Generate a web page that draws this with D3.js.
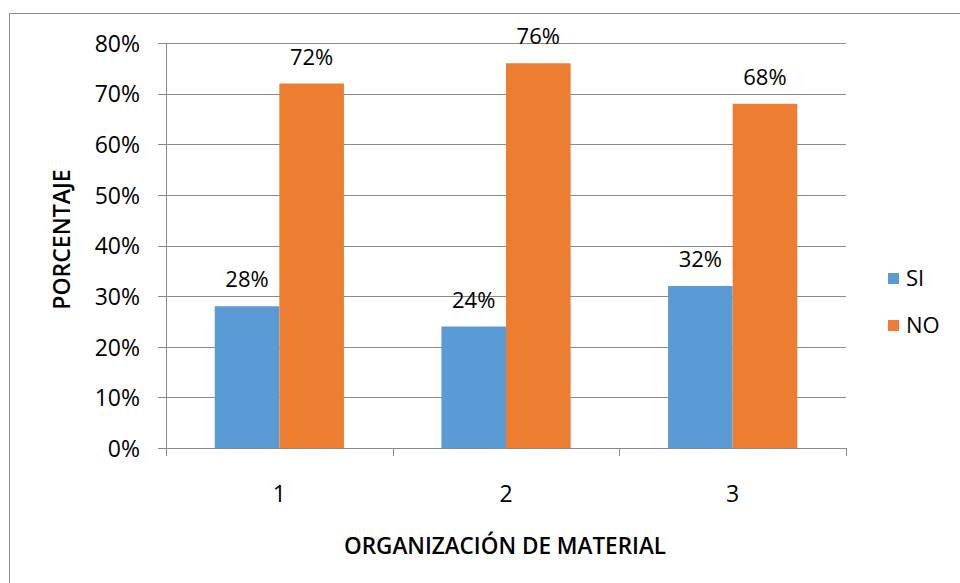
<!DOCTYPE html>
<html>
<head>
<meta charset="utf-8">
<script src="https://cdn.jsdelivr.net/npm/d3@7"></script>
<style>
  body { margin: 0; background: #fff; }
  text { font-family: "Open Sans", "Liberation Sans", sans-serif; fill: #000; }
</style>
</head>
<body>
<div id="chart"></div>
<script>
// chart data
var categories = ["1", "2", "3"];
var seriesNames = ["SI", "NO"];
var siValues = [0.28, 0.24, 0.32];
var noValues = [0.72, 0.76, 0.68];
var yTicks = [0, 0.1, 0.2, 0.3, 0.4, 0.5, 0.6, 0.7, 0.8];
var colors = ["#5B9BD5", "#ED7D31"];

var svgWidth = 960;
var svgHeight = 583;

var margin = { top: 43, right: 114, bottom: 135, left: 166 };
var width = svgWidth - margin.left - margin.right;
var height = svgHeight - margin.top - margin.bottom;

var svg = d3.select("#chart")
  .append("svg")
  .attr("width", svgWidth)
  .attr("height", svgHeight);

// outer chart border (only top and left visible in frame)
svg.append("rect")
  .attr("x", 9.5)
  .attr("y", 13.5)
  .attr("width", 1000)
  .attr("height", 1000)
  .attr("fill", "none")
  .attr("stroke", "#8c8c8c")
  .attr("stroke-width", 1);

var chartGroup = svg.append("g")
  .attr("transform", `translate(${margin.left}, ${margin.top})`);

var xScale = d3.scaleBand()
  .domain(categories)
  .range([0, width])
  .paddingInner(0.43)
  .paddingOuter(0.215);

// plain band for the category slots (ticks at boundaries)
var slotScale = d3.scaleBand()
  .domain(categories)
  .range([0, width]);

var xSub = d3.scaleBand()
  .domain(seriesNames)
  .range([0, xScale.bandwidth()]);

var yScale = d3.scaleLinear()
  .domain([0, 0.8])
  .range([height, 0]);

// gridlines
chartGroup.append("g")
  .selectAll("line")
  .data(yTicks)
  .enter()
  .append("line")
  .attr("x1", -8)
  .attr("x2", width)
  .attr("y1", d => Math.round(yScale(d)) + 0.5)
  .attr("y2", d => Math.round(yScale(d)) + 0.5)
  .attr("stroke", "#8a8a8a")
  .attr("stroke-width", 1);

// y axis labels
var leftAxis = d3.axisLeft(yScale)
  .tickValues(yTicks)
  .tickFormat(d3.format(".0%"))
  .tickSize(0)
  .tickPadding(26);

var yAxis = chartGroup.append("g").call(leftAxis);
yAxis.select(".domain").remove();
yAxis.selectAll("text")
  .style("font-size", "23px")
  .style("font-family", "\"Open Sans\", sans-serif")
  .attr("dy", "0.36em");

// y axis line
chartGroup.append("line")
  .attr("x1", 0.5).attr("x2", 0.5)
  .attr("y1", 0).attr("y2", height + 1)
  .attr("stroke", "#8a8a8a");

// x axis ticks at slot boundaries
var boundaries = [0].concat(categories.map(c => slotScale(c) + slotScale.bandwidth()));
chartGroup.append("g")
  .selectAll("line")
  .data(boundaries)
  .enter()
  .append("line")
  .attr("x1", d => Math.round(d) + 0.5)
  .attr("x2", d => Math.round(d) + 0.5)
  .attr("y1", height)
  .attr("y2", height + 8)
  .attr("stroke", "#8a8a8a");

// category labels
chartGroup.append("g")
  .selectAll("text")
  .data(categories)
  .enter()
  .append("text")
  .attr("x", d => slotScale(d) + slotScale.bandwidth() / 2)
  .attr("y", height + 54)
  .attr("text-anchor", "middle")
  .style("font-size", "23px")
  .text(d => d);

// bars
var rows = categories.map((c, i) => ({ cat: c, vals: [siValues[i], noValues[i]] }));

var groups = chartGroup.selectAll(".grp")
  .data(rows)
  .enter()
  .append("g")
  .attr("class", "grp")
  .attr("transform", d => `translate(${xScale(d.cat)}, 0)`);

groups.selectAll("rect")
  .data(d => d.vals.map((v, j) => ({ name: seriesNames[j], v: v, j: j })))
  .enter()
  .append("rect")
  .attr("x", d => xSub(d.name))
  .attr("y", d => yScale(d.v))
  .attr("width", xSub.bandwidth())
  .attr("height", d => height - yScale(d.v))
  .attr("fill", d => colors[d.j]);

// value labels
groups.selectAll(".lbl")
  .data(d => d.vals.map((v, j) => ({ name: seriesNames[j], v: v })))
  .enter()
  .append("text")
  .attr("class", "lbl")
  .attr("x", d => xSub(d.name) + xSub.bandwidth() / 2)
  .attr("y", d => yScale(d.v) - 19)
  .attr("text-anchor", "middle")
  .style("font-size", "22px")
  .text(d => d3.format(".0%")(d.v));

// y axis title
svg.append("text")
  .attr("transform", `translate(70, ${margin.top + height / 2 - 6}) rotate(-90)`)
  .attr("text-anchor", "middle")
  .style("font-size", "23px")
  .style("font-weight", "600")
  .text("PORCENTAJE");

// x axis title
svg.append("text")
  .attr("x", 505)
  .attr("y", 554)
  .attr("text-anchor", "middle")
  .style("font-size", "22.5px")
  .style("font-weight", "600")
  .text("ORGANIZACIÓN DE MATERIAL");

// legend
var legend = svg.append("g")
  .attr("transform", "translate(888, 273)");

var legendItems = legend.selectAll("g")
  .data(seriesNames)
  .enter()
  .append("g")
  .attr("transform", (d, i) => `translate(0, ${i * 47})`);

legendItems.append("rect")
  .attr("width", 11)
  .attr("height", 11)
  .attr("fill", (d, i) => colors[i]);

legendItems.append("text")
  .attr("x", 18)
  .attr("y", 13)
  .style("font-size", "22px")
  .text(d => d);
</script>
</body>
</html>
